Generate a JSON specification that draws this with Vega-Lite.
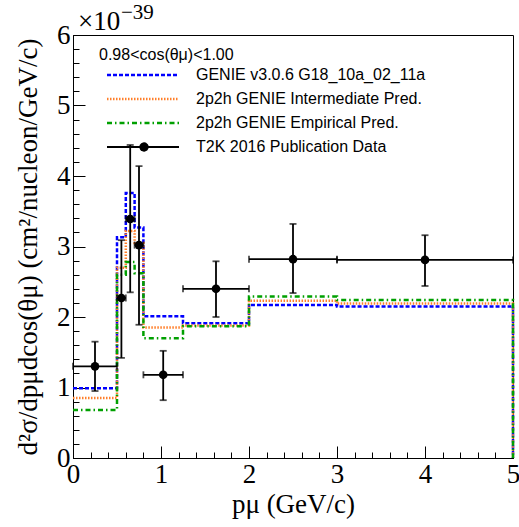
{
  "$schema": "https://vega.github.io/schema/vega-lite/v6.json",
  "width": 440,
  "height": 423,
  "autosize": {"type": "none"},
  "padding": {"left": 73, "top": 35, "right": 6, "bottom": 69},
  "background": "white",
  "config": {
    "view": {"stroke": "black", "strokeWidth": 1},
    "axis": {
      "grid": false,
      "labelFlush": false,
      "domainColor": "black",
      "tickColor": "black",
      "labelColor": "black",
      "titleColor": "black",
      "labelFont": "Times New Roman, Liberation Serif, DejaVu Serif, serif",
      "titleFont": "Times New Roman, Liberation Serif, DejaVu Serif, serif",
      "labelFontSize": 27,
      "titleFontSize": 27,
      "titleFontWeight": "normal"
    }
  },
  "datasets": {
    "mc": [
      {"series": "GENIE v3.0.6 G18_10a_02_11a", "i": 0, "x": 0, "y": 0.99},
      {"series": "GENIE v3.0.6 G18_10a_02_11a", "i": 1, "x": 0.5, "y": 3.13},
      {"series": "GENIE v3.0.6 G18_10a_02_11a", "i": 2, "x": 0.6, "y": 3.76},
      {"series": "GENIE v3.0.6 G18_10a_02_11a", "i": 3, "x": 0.7, "y": 3.27},
      {"series": "GENIE v3.0.6 G18_10a_02_11a", "i": 4, "x": 0.8, "y": 2.01},
      {"series": "GENIE v3.0.6 G18_10a_02_11a", "i": 5, "x": 1.25, "y": 1.91},
      {"series": "GENIE v3.0.6 G18_10a_02_11a", "i": 6, "x": 2, "y": 2.17},
      {"series": "GENIE v3.0.6 G18_10a_02_11a", "i": 7, "x": 3, "y": 2.15},
      {"series": "GENIE v3.0.6 G18_10a_02_11a", "i": 8, "x": 5, "y": 2.15},
      {"series": "GENIE v3.0.6 G18_10a_02_11a", "i": 9, "x": 5, "y": 0},
      {"series": "2p2h GENIE Intermediate Pred.", "i": 0, "x": 0, "y": 0.85},
      {"series": "2p2h GENIE Intermediate Pred.", "i": 1, "x": 0.5, "y": 2.7},
      {"series": "2p2h GENIE Intermediate Pred.", "i": 2, "x": 0.6, "y": 3.22},
      {"series": "2p2h GENIE Intermediate Pred.", "i": 3, "x": 0.7, "y": 3.05},
      {"series": "2p2h GENIE Intermediate Pred.", "i": 4, "x": 0.8, "y": 1.85},
      {"series": "2p2h GENIE Intermediate Pred.", "i": 5, "x": 1.25, "y": 1.88},
      {"series": "2p2h GENIE Intermediate Pred.", "i": 6, "x": 2, "y": 2.23},
      {"series": "2p2h GENIE Intermediate Pred.", "i": 7, "x": 3, "y": 2.19},
      {"series": "2p2h GENIE Intermediate Pred.", "i": 8, "x": 5, "y": 2.19},
      {"series": "2p2h GENIE Intermediate Pred.", "i": 9, "x": 5, "y": 0},
      {"series": "2p2h GENIE Empirical Pred.", "i": 0, "x": 0, "y": 0.68},
      {"series": "2p2h GENIE Empirical Pred.", "i": 1, "x": 0.5, "y": 2.6},
      {"series": "2p2h GENIE Empirical Pred.", "i": 2, "x": 0.6, "y": 2.78},
      {"series": "2p2h GENIE Empirical Pred.", "i": 3, "x": 0.7, "y": 2.62},
      {"series": "2p2h GENIE Empirical Pred.", "i": 4, "x": 0.8, "y": 1.7},
      {"series": "2p2h GENIE Empirical Pred.", "i": 5, "x": 1.25, "y": 1.87},
      {"series": "2p2h GENIE Empirical Pred.", "i": 6, "x": 2, "y": 2.29},
      {"series": "2p2h GENIE Empirical Pred.", "i": 7, "x": 3, "y": 2.24},
      {"series": "2p2h GENIE Empirical Pred.", "i": 8, "x": 5, "y": 2.24},
      {"series": "2p2h GENIE Empirical Pred.", "i": 9, "x": 5, "y": 0}
    ],
    "t2k": [
      {"x": 0.25, "y": 1.3, "xlo": 0, "xhi": 0.5, "ylo": 0.95, "yhi": 1.65},
      {"x": 0.55, "y": 2.27, "xlo": 0.5, "xhi": 0.6, "ylo": 1.42, "yhi": 3.09},
      {"x": 0.65, "y": 3.39, "xlo": 0.6, "xhi": 0.7, "ylo": 2.35, "yhi": 4.44},
      {"x": 0.75, "y": 3.02, "xlo": 0.7, "xhi": 0.8, "ylo": 1.89, "yhi": 4.14},
      {"x": 1.025, "y": 1.18, "xlo": 0.8, "xhi": 1.25, "ylo": 0.82, "yhi": 1.52},
      {"x": 1.625, "y": 2.4, "xlo": 1.25, "xhi": 2.0, "ylo": 2.0, "yhi": 2.79},
      {"x": 2.5, "y": 2.82, "xlo": 2.0, "xhi": 3.0, "ylo": 2.34, "yhi": 3.32},
      {"x": 4.0, "y": 2.81, "xlo": 3.0, "xhi": 5.0, "ylo": 2.44, "yhi": 3.16}
    ]
  },
  "layer": [
    {
      "data": {"name": "mc"},
      "mark": {"type": "line", "interpolate": "step-after", "strokeWidth": 2.5},
      "encoding": {
        "x": {
          "field": "x", "type": "quantitative",
          "scale": {"domain": [0, 5], "nice": false, "zero": false},
          "axis": {
            "orient": "bottom",
            "values": [0, 0.2, 0.4, 0.6, 0.8, 1, 1.2, 1.4, 1.6, 1.8, 2, 2.2, 2.4, 2.6, 2.8, 3, 3.2, 3.4, 3.6, 3.8, 4, 4.2, 4.4, 4.6, 4.8, 5],
            "tickSize": -6, "labels": false, "domain": false, "title": null
          }
        },
        "y": {
          "field": "y", "type": "quantitative",
          "scale": {"domain": [0, 6], "nice": false, "zero": false},
          "axis": {
            "orient": "left",
            "values": [0, 0.2, 0.4, 0.6, 0.8, 1, 1.2, 1.4, 1.6, 1.8, 2, 2.2, 2.4, 2.6, 2.8, 3, 3.2, 3.4, 3.6, 3.8, 4, 4.2, 4.4, 4.6, 4.8, 5, 5.2, 5.4, 5.6, 5.8, 6],
            "tickSize": -6, "labels": false, "domain": false, "title": null
          }
        },
        "color": {
          "field": "series", "type": "nominal",
          "scale": {
            "domain": ["GENIE v3.0.6 G18_10a_02_11a", "2p2h GENIE Intermediate Pred.", "2p2h GENIE Empirical Pred.", "T2K 2016 Publication Data"],
            "range": ["#0000ff", "#ff7f2a", "#00a000", "#000000"]
          },
          "legend": {
            "orient": "none",
            "legendX": 26,
            "legendY": 12,
            "title": "0.98<cos(θμ)<1.00",
            "titleFont": "Liberation Sans",
            "titleFontSize": 16,
            "titleFontWeight": "normal",
            "titleColor": "black",
            "titlePadding": 4,
            "labelFont": "Liberation Sans",
            "labelFontSize": 16,
            "labelColor": "black",
            "labelOffset": 76,
            "labelLimit": 400,
            "symbolType": "M-1,0H13.4",
            "symbolSize": 100,
            "symbolStrokeWidth": 2.5,
            "symbolOffset": 5,
            "rowPadding": 8,
            "padding": 0,
            "encode": {
              "symbols": {
                "update": {
                  "shape": {"signal": "datum.value === 'T2K 2016 Publication Data' ? 'M-1,0H13.4M5.65,0A0.75,0.75 0 1,0 7.15,0A0.75,0.75 0 1,0 5.65,0Z' : 'M-1,0H13.4'"},
                  "fill": {"signal": "datum.value === 'T2K 2016 Publication Data' ? 'black' : 'transparent'"},
                  "strokeDash": {"signal": "datum.value === 'GENIE v3.0.6 G18_10a_02_11a' ? [4,2] : datum.value === '2p2h GENIE Intermediate Pred.' ? [1.5,1.5] : datum.value === '2p2h GENIE Empirical Pred.' ? [5,3,1.5,3] : [1,0]"},
                  "strokeWidth": {"signal": "datum.value === 'T2K 2016 Publication Data' ? 1.8 : 2.5"}
                }
              }
            }
          }
        },
        "strokeDash": {
          "field": "series", "type": "nominal",
          "scale": {
            "domain": ["GENIE v3.0.6 G18_10a_02_11a", "2p2h GENIE Intermediate Pred.", "2p2h GENIE Empirical Pred."],
            "range": [[4, 2], [1.5, 1.5], [5, 3, 1.5, 3]]
          },
          "legend": null
        },
        "order": {"field": "i", "type": "quantitative"}
      }
    },
    {
      "data": {"name": "t2k"},
      "mark": {"type": "rule", "color": "black", "strokeWidth": 1.8},
      "encoding": {
        "x": {
          "field": "x", "type": "quantitative",
          "axis": {
            "orient": "bottom",
            "values": [0, 1, 2, 3, 4, 5],
            "tickSize": -12, "labelPadding": 15, "domain": true, "domainWidth": 1,
            "title": "pμ (GeV/c)", "titlePadding": 4
          }
        },
        "y": {
          "field": "ylo", "type": "quantitative",
          "axis": {
            "orient": "left",
            "values": [0, 1, 2, 3, 4, 5, 6],
            "tickSize": -12, "labelPadding": 15, "domain": true, "domainWidth": 1,
            "title": "d²σ/dpμdcos(θμ) (cm²/nucleon/GeV/c)", "titlePadding": 14
          }
        },
        "y2": {"field": "yhi"}
      }
    },
    {
      "data": {"name": "t2k"},
      "mark": {"type": "rule", "color": "black", "strokeWidth": 1.8},
      "encoding": {
        "x": {"field": "xlo", "type": "quantitative", "axis": null},
        "x2": {"field": "xhi"},
        "y": {"field": "y", "type": "quantitative", "axis": null}
      }
    },
    {
      "data": {"name": "t2k"},
      "mark": {"type": "tick", "orient": "horizontal", "color": "black", "size": 7, "thickness": 1.8},
      "encoding": {
        "x": {"field": "x", "type": "quantitative", "axis": null},
        "y": {"field": "yhi", "type": "quantitative", "axis": null}
      }
    },
    {
      "data": {"name": "t2k"},
      "mark": {"type": "tick", "orient": "horizontal", "color": "black", "size": 7, "thickness": 1.8},
      "encoding": {
        "x": {"field": "x", "type": "quantitative", "axis": null},
        "y": {"field": "ylo", "type": "quantitative", "axis": null}
      }
    },
    {
      "data": {"name": "t2k"},
      "mark": {"type": "tick", "orient": "vertical", "color": "black", "size": 7, "thickness": 1.8},
      "encoding": {
        "x": {"field": "xlo", "type": "quantitative", "axis": null},
        "y": {"field": "y", "type": "quantitative", "axis": null}
      }
    },
    {
      "data": {"name": "t2k"},
      "mark": {"type": "tick", "orient": "vertical", "color": "black", "size": 7, "thickness": 1.8},
      "encoding": {
        "x": {"field": "xhi", "type": "quantitative", "axis": null},
        "y": {"field": "y", "type": "quantitative", "axis": null}
      }
    },
    {
      "data": {"name": "t2k"},
      "mark": {"type": "point", "shape": "circle", "filled": true, "color": "black", "size": 75, "opacity": 1},
      "encoding": {
        "x": {"field": "x", "type": "quantitative", "axis": null},
        "y": {"field": "y", "type": "quantitative", "axis": null}
      }
    },
    {
      "data": {"values": [{}]},
      "mark": {"type": "text", "text": "×10", "align": "left", "baseline": "alphabetic", "dx": 5, "dy": -5, "font": "Times New Roman, Liberation Serif, DejaVu Serif, serif", "fontSize": 27, "color": "black"},
      "encoding": {
        "x": {"datum": 0, "type": "quantitative", "axis": null},
        "y": {"datum": 6, "type": "quantitative", "axis": null}
      }
    },
    {
      "data": {"values": [{}]},
      "mark": {"type": "text", "text": "−39", "align": "left", "baseline": "alphabetic", "dx": 48, "dy": -16, "font": "Times New Roman, Liberation Serif, DejaVu Serif, serif", "fontSize": 21, "color": "black"},
      "encoding": {
        "x": {"datum": 0, "type": "quantitative", "axis": null},
        "y": {"datum": 6, "type": "quantitative", "axis": null}
      }
    }
  ],
  "resolve": {"axis": {"x": "independent", "y": "independent"}}
}
